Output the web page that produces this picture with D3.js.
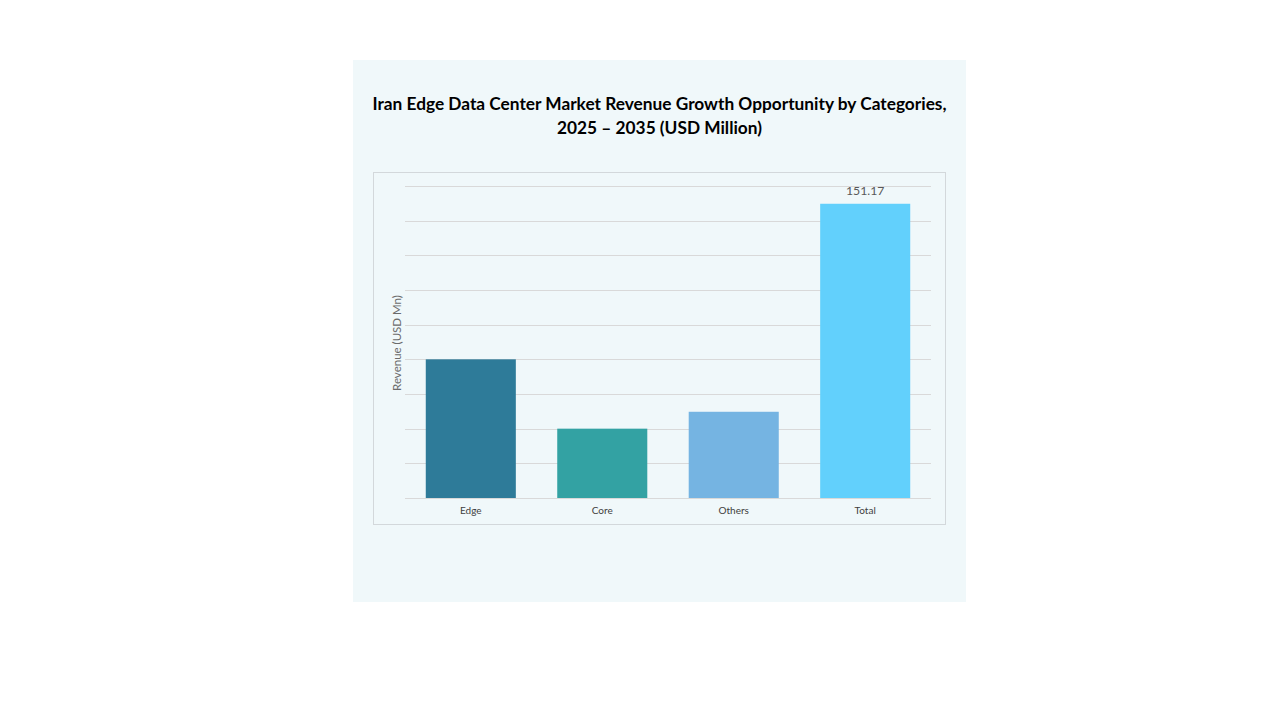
<!DOCTYPE html>
<html>
<head>
<meta charset="utf-8">
<script src="https://d3js.org/d3.v7.min.js"></script>
<style>
  body { margin: 0; background: #fff; }
</style>
</head>
<body>
<script>

  var categories = ["Edge", "Core", "Others", "Total"];
  var values = [71.25, 35.62, 44.30, 151.17];
  var colors = ["#2e7b99", "#33a2a3", "#75b4e2", "#62d0fc"];
  var yMax = 160.3;
  var gridCount = 9;

  var svg = d3.select("body").append("svg")
    .attr("width", 1280)
    .attr("height", 720);

  // panel
  svg.append("rect")
    .attr("x", 353).attr("y", 60)
    .attr("width", 613).attr("height", 542)
    .attr("fill", "#f0f8fa");

  var font = "'Century Gothic', Lato, sans-serif";

  var title = svg.append("text")
    .attr("text-anchor", "middle")
    .attr("font-family", font)
    .attr("font-weight", "bold")
    .attr("font-size", 17.3)
    .attr("fill", "#000");
  title.append("tspan").attr("x", 659.5).attr("y", 110)
    .text("Iran Edge Data Center Market Revenue Growth Opportunity by Categories,");
  title.append("tspan").attr("x", 659.5).attr("y", 134)
    .text("2025 \u2013 2035 (USD Million)");

  // inner chart box
  svg.append("rect")
    .attr("x", 373.5).attr("y", 172.5)
    .attr("width", 572).attr("height", 352)
    .attr("fill", "none")
    .attr("stroke", "#d3d8db");

  var x = d3.scaleBand()
    .domain(categories)
    .range([405, 931])
    .paddingInner(0.315)
    .paddingOuter(0.158);

  var y = d3.scaleLinear()
    .domain([0, yMax])
    .range([498, 186]);

  var gridVals = d3.range(0, gridCount + 1).map(function(i) { return i * yMax / gridCount; });

  svg.selectAll("line.grid")
    .data(gridVals)
    .enter().append("line")
    .attr("class", "grid")
    .attr("x1", 405).attr("x2", 931)
    .attr("y1", function(d) { return Math.round(y(d)) + 0.5; })
    .attr("y2", function(d) { return Math.round(y(d)) + 0.5; })
    .attr("stroke", "#d9d9d9")
    .attr("stroke-width", 1);

  svg.selectAll("rect.bar")
    .data(values)
    .enter().append("rect")
    .attr("class", "bar")
    .attr("x", function(d, i) { return x(categories[i]); })
    .attr("y", function(d) { return y(d); })
    .attr("width", x.bandwidth())
    .attr("height", function(d) { return y(0) - y(d); })
    .attr("fill", function(d, i) { return colors[i]; });

  // value label on total only
  svg.append("text")
    .attr("x", x("Total") + x.bandwidth() / 2)
    .attr("y", y(values[3]) - 9)
    .attr("text-anchor", "middle")
    .attr("font-family", font)
    .attr("font-size", 12.3)
    .attr("fill", "#595959")
    .text(values[3].toFixed(2));

  var xAxis = svg.append("g")
    .attr("transform", "translate(0,498)")
    .call(d3.axisBottom(x).tickSize(0).tickPadding(9));
  xAxis.select(".domain").remove();
  xAxis.selectAll("text")
    .attr("font-family", font)
    .attr("font-size", 10)
    .attr("fill", "#404040");

  svg.append("text")
    .attr("transform", "translate(401,343) rotate(-90)")
    .attr("text-anchor", "middle")
    .attr("font-family", font)
    .attr("font-size", 11.5)
    .attr("fill", "#6b6b6b")
    .text("Revenue (USD Mn)");

</script>
</body>
</html>
